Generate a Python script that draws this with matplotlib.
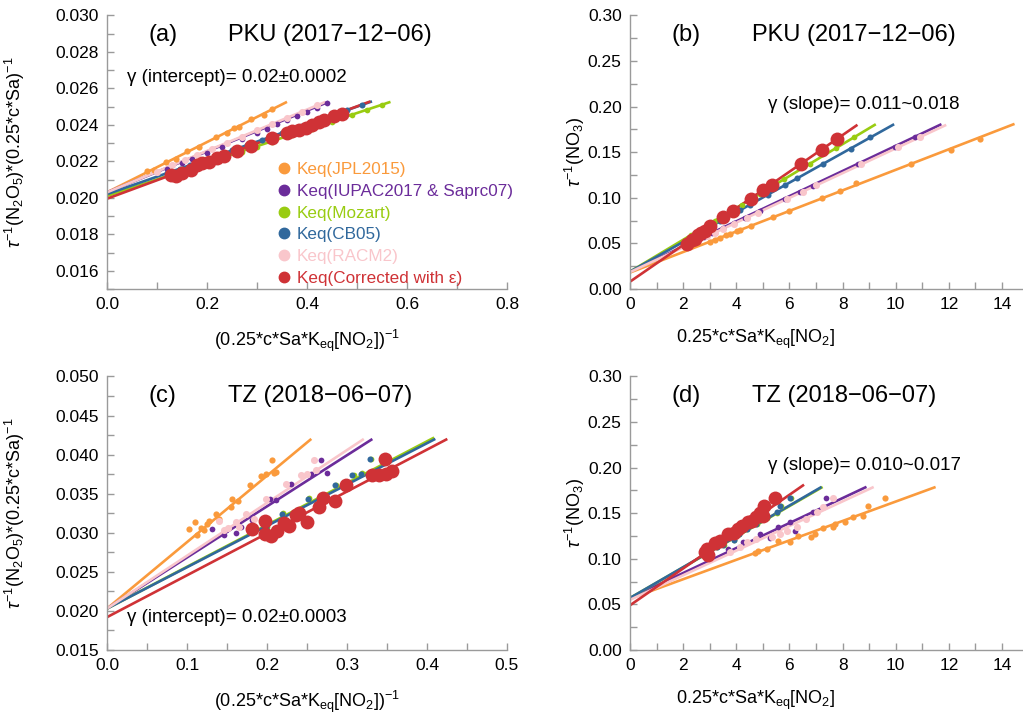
import matplotlib
matplotlib.use("Agg")
import matplotlib.pyplot as plt
from matplotlib.lines import Line2D
from matplotlib.ticker import MultipleLocator, FormatStrFormatter
import numpy as np

plt.rcParams["font.family"] = ["Liberation Sans", "DejaVu Sans"]
plt.rcParams["mathtext.fontset"] = "custom"
plt.rcParams["mathtext.rm"] = "Liberation Sans"
plt.rcParams["mathtext.it"] = "Liberation Sans:italic"

SERIES = ["jpl", "iupac", "mozart", "cb05", "racm2", "corr"]
LABELS = ["Keq(JPL2015)", "Keq(IUPAC2017 & Saprc07)", "Keq(Mozart)",
          "Keq(CB05)", "Keq(RACM2)", "Keq(Corrected with \u03b5)"]
COLORS = {"jpl": "#FA9A3C", "iupac": "#6B2C9A", "mozart": "#99CC11",
          "cb05": "#30689C", "racm2": "#F9C6CB", "corr": "#CF3236"}
SIZES = {"jpl": 20, "iupac": 17, "mozart": 17, "cb05": 19, "racm2": 26, "corr": 100}
AXIS_GRAY = "#9A9A9A"

# ---- (a) PKU, 1/(0.25cSa Keq[NO2]) vs tau^-1/(0.25cSa)
A_X = {
    "jpl": [0.08, 0.093, 0.117, 0.137, 0.16, 0.183, 0.217, 0.24, 0.253, 0.263, 0.287, 0.313, 0.33],
    "iupac": [0.12, 0.15, 0.17, 0.20, 0.23, 0.27, 0.30, 0.32, 0.34, 0.36, 0.38, 0.40, 0.42, 0.44],
    "mozart": [0.13, 0.155, 0.18, 0.21, 0.24, 0.27, 0.30, 0.33, 0.37, 0.41, 0.45, 0.49, 0.52, 0.55],
    "cb05": [0.12, 0.145, 0.165, 0.19, 0.22, 0.25, 0.28, 0.31, 0.35, 0.39, 0.42, 0.45, 0.48, 0.51],
    "racm2": [0.10, 0.13, 0.155, 0.18, 0.21, 0.24, 0.27, 0.30, 0.33, 0.36, 0.39, 0.42],
    "corr": [0.127, 0.137, 0.150, 0.167, 0.180, 0.190, 0.203, 0.220, 0.233, 0.260, 0.287,
             0.330, 0.360, 0.370, 0.383, 0.397, 0.410, 0.423, 0.433, 0.453, 0.470],
}
A_Y = {
    "jpl": [0.02145, 0.02155, 0.02195, 0.02214, 0.02255, 0.02278, 0.02333, 0.02356, 0.02384,
            0.02390, 0.02430, 0.02456, 0.02488],
    "iupac": [0.02158, 0.02190, 0.02214, 0.02245, 0.02280, 0.02322, 0.02356, 0.02380, 0.02402,
              0.02425, 0.02448, 0.02470, 0.02494, 0.02518],
    "mozart": [0.02125, 0.02148, 0.02171, 0.02198, 0.02225, 0.02253, 0.02280, 0.02307, 0.02344,
               0.02380, 0.02417, 0.02453, 0.02480, 0.02507],
    "cb05": [0.02135, 0.02159, 0.02178, 0.02202, 0.02231, 0.02260, 0.02289, 0.02318, 0.02356,
             0.02394, 0.02423, 0.02452, 0.02481, 0.02510],
    "racm2": [0.02144, 0.02178, 0.02206, 0.02234, 0.02268, 0.02302, 0.02336, 0.02371, 0.02405,
              0.02439, 0.02473, 0.02507],
    "corr": [0.02126, 0.02117, 0.02136, 0.02154, 0.02181, 0.02191, 0.02199, 0.02218, 0.02227,
             0.02254, 0.02282, 0.02328, 0.02355, 0.02368, 0.02374, 0.02383, 0.02401, 0.02416,
             0.02429, 0.02447, 0.02460],
}
# fitted lines: intercept, slope, end of line on x
A_FIT = {"jpl": (0.0203, 0.01378, 0.36), "iupac": (0.0203, 0.0112, 0.443),
         "mozart": (0.0201, 0.0091, 0.567), "cb05": (0.0202, 0.0096, 0.53),
         "racm2": (0.0203, 0.01135, 0.437), "corr": (0.01995, 0.01013, 0.527)}

# ---- (b) PKU, 0.25cSa Keq[NO2] vs tau^-1(NO3)
B_X = {
    "jpl": [3.01, 3.2, 3.38, 3.63, 3.76, 4.01, 4.14, 4.57, 5.39, 5.99, 7.24, 7.92, 8.52, 10.59, 12.09, 13.16],
    "iupac": [2.8, 3.1, 3.5, 3.9, 4.32, 4.9, 5.83, 6.39, 6.87, 8.58, 9.96, 10.71],
    "mozart": [2.3, 2.6, 2.9, 3.2, 3.8, 4.2, 4.9, 5.4, 5.8, 6.77, 7.74, 8.42],
    "cb05": [2.4, 2.7, 3.0, 3.4, 4.14, 4.5, 5.2, 5.83, 6.3, 7.27, 8.3, 9.05],
    "racm2": [2.9, 3.2, 3.5, 3.9, 4.4, 4.8, 5.9, 6.5, 7.0, 8.7, 10.1, 10.9],
    "corr": [2.13, 2.32, 2.44, 2.57, 2.69, 2.82, 3.01, 3.51, 3.86, 4.55, 4.99, 5.33, 6.42, 7.21, 7.79],
}
B_Y = {
    "jpl": [0.0519, 0.0541, 0.0561, 0.0589, 0.0604, 0.0632, 0.0647, 0.0695, 0.0787, 0.0855,
            0.0996, 0.1073, 0.1159, 0.1373, 0.1527, 0.1646],
    "iupac": [0.0570, 0.0612, 0.0668, 0.0722, 0.0780, 0.0860, 0.0990, 0.1065, 0.1132, 0.1370,
              0.1560, 0.1665],
    "mozart": [0.0592, 0.0644, 0.0697, 0.0749, 0.0854, 0.0924, 0.1047, 0.1134, 0.1204, 0.1373,
               0.1543, 0.1662],
    "cb05": [0.0580, 0.0629, 0.0678, 0.0743, 0.0864, 0.0922, 0.1036, 0.1139, 0.1215, 0.1373,
             0.1540, 0.1662],
    "racm2": [0.0579, 0.0619, 0.0660, 0.0714, 0.0782, 0.0836, 0.0986, 0.1067, 0.1135, 0.1366,
              0.1556, 0.1664],
    "corr": [0.0498, 0.0534, 0.0553, 0.0589, 0.0614, 0.0636, 0.0687, 0.0789, 0.0854, 0.0989,
             0.1087, 0.1145, 0.1371, 0.1527, 0.1643],
}
B_FIT = {"jpl": (0.018, 0.01127, 14.47), "iupac": (0.019, 0.0138, 11.72),
         "mozart": (0.019, 0.01748, 9.25), "cb05": (0.019, 0.01627, 9.94),
         "racm2": (0.0185, 0.01357, 11.9), "corr": (0.008, 0.0201, 8.56)}

# ---- (c) TZ, intercept form
C_X = {
    "jpl": [0.1025, 0.110, 0.1129, 0.1171, 0.1213, 0.1254, 0.1275, 0.1366, 0.140, 0.1567, 0.1546,
            0.1641, 0.1784, 0.1921, 0.1984, 0.2066, 0.2088, 0.2116],
    "iupac": [0.1317, 0.1463, 0.1491, 0.1608, 0.1671, 0.1817, 0.2033, 0.2117, 0.2296, 0.2546,
              0.2671, 0.2754],
    "mozart": [0.1806, 0.2001, 0.2202, 0.2528, 0.2864, 0.3082, 0.3186, 0.3299],
    "cb05": [0.1796, 0.1984, 0.2191, 0.2516, 0.285, 0.3067, 0.3171, 0.3283],
    "racm2": [0.1463, 0.140, 0.1517, 0.1608, 0.165, 0.1733, 0.1838, 0.1984, 0.2234, 0.2421,
              0.2504, 0.2588, 0.2608],
    "corr": [0.1817, 0.1975, 0.1975, 0.2046, 0.2129, 0.2213, 0.2275, 0.2358, 0.240, 0.2504,
             0.265, 0.270, 0.2846, 0.2983, 0.3317, 0.340, 0.3471, 0.3492, 0.3558],
}
C_Y = {
    "jpl": [0.03046, 0.03139, 0.02969, 0.03067, 0.03033, 0.03118, 0.03152, 0.03237, 0.03182,
            0.03438, 0.03330, 0.03407, 0.03608, 0.03726, 0.03748, 0.03936, 0.03765, 0.03777],
    "iupac": [0.03042, 0.02969, 0.03033, 0.02998, 0.03075, 0.03160, 0.03438, 0.03416, 0.03629,
              0.03757, 0.03936, 0.03765],
    "mozart": [0.03015, 0.03080, 0.03250, 0.03440, 0.03610, 0.03740, 0.03760, 0.03950],
    "cb05": [0.03011, 0.03075, 0.03246, 0.03438, 0.03608, 0.03735, 0.03757, 0.03949],
    "racm2": [0.03033, 0.03152, 0.03067, 0.03139, 0.03075, 0.03246, 0.03182, 0.03438, 0.03620,
              0.03735, 0.03757, 0.03936, 0.03799],
    "corr": [0.03046, 0.03152, 0.02982, 0.02960, 0.03024, 0.03131, 0.03088, 0.03224, 0.03254,
             0.03139, 0.03330, 0.03445, 0.03407, 0.03608, 0.03735, 0.03735, 0.03949, 0.03757,
             0.03786],
}
C_FIT = {"jpl": (0.0203, 0.0850, 0.2554), "iupac": (0.0203, 0.0654, 0.3317),
         "mozart": (0.0203, 0.0535, 0.409), "cb05": (0.0203, 0.0529, 0.4104),
         "racm2": (0.0203, 0.0676, 0.321), "corr": (0.0192, 0.0536, 0.4254)}

# ---- (d) TZ, slope form
D_X = {
    "jpl": [4.70, 4.82, 5.14, 5.58, 6.02, 6.33, 6.83, 6.95, 7.27, 7.64, 7.71, 8.08, 8.39, 8.77, 8.96, 9.59],
    "iupac": [3.70, 4.26, 4.89, 5.26, 5.58, 6.02, 6.20, 6.89, 7.39],
    "mozart": [3.02, 3.28, 3.52, 3.92, 4.12, 4.41, 4.78, 5.17, 5.55, 5.67, 6.05],
    "cb05": [3.0, 3.26, 3.5, 3.9, 4.1, 4.39, 4.76, 5.14, 5.52, 5.64, 6.02],
    "racm2": [3.76, 4.14, 4.39, 4.76, 5.33, 5.64, 5.89, 6.27, 6.64, 7.02, 7.27, 7.64],
    "corr": [2.82, 2.91, 2.95, 3.2, 3.38, 3.70, 3.9, 4.07, 4.2, 4.45, 4.6, 4.76, 4.9, 5.0, 5.04, 5.45],
}
D_Y = {
    "jpl": [0.1061, 0.1091, 0.1109, 0.1192, 0.1181, 0.1254, 0.1236, 0.1273, 0.1338, 0.1345,
            0.1382, 0.1399, 0.1454, 0.1472, 0.1581, 0.1665],
    "iupac": [0.1109, 0.1181, 0.1273, 0.1229, 0.1345, 0.1399, 0.1309, 0.1508, 0.1665],
    "mozart": [0.1058, 0.1125, 0.1148, 0.1208, 0.1268, 0.1325, 0.1380, 0.1452, 0.1506, 0.1579, 0.1670],
    "cb05": [0.1060, 0.1127, 0.1150, 0.1210, 0.1270, 0.1327, 0.1382, 0.1454, 0.1508, 0.1581, 0.1672],
    "racm2": [0.1072, 0.1127, 0.1181, 0.1218, 0.1236, 0.1273, 0.1309, 0.1345, 0.1436, 0.1508,
              0.1563, 0.1665],
    "corr": [0.1072, 0.1109, 0.1045, 0.1170, 0.1200, 0.1273, 0.1280, 0.1327, 0.1360, 0.1399,
             0.1420, 0.1454, 0.1500, 0.1470, 0.1581, 0.1672],
}
D_FIT = {"jpl": (0.0563, 0.01065, 11.5), "iupac": (0.057, 0.0137, 8.9),
         "mozart": (0.057, 0.0168, 7.25), "cb05": (0.057, 0.0169, 7.21),
         "racm2": (0.055, 0.0135, 9.17), "corr": (0.049, 0.0202, 6.55)}

XLAB_INT = r"(0.25*c*Sa*K$_{\rm eq}$[NO$_2$])$^{-1}$"
XLAB_SLO = r"0.25*c*Sa*K$_{\rm eq}$[NO$_2$]"
YLAB_INT = r"$\tau^{-1}$(N$_2$O$_5$)*(0.25*c*Sa)$^{-1}$"
YLAB_SLO = r"$\tau^{-1}$(NO$_3$)"


def style_axes(ax, xlim, ylim, xmaj, xmin, ymaj, ymin, xfmt, yfmt):
    for s in ("top", "right"):
        ax.spines[s].set_visible(False)
    for s in ("left", "bottom"):
        ax.spines[s].set_color(AXIS_GRAY)
        ax.spines[s].set_linewidth(1.0)
    ax.set_xlim(*xlim)
    ax.set_ylim(*ylim)
    ax.xaxis.set_major_locator(MultipleLocator(xmaj))
    ax.xaxis.set_minor_locator(MultipleLocator(xmin))
    ax.yaxis.set_major_locator(MultipleLocator(ymaj))
    ax.yaxis.set_minor_locator(MultipleLocator(ymin))
    ax.xaxis.set_major_formatter(FormatStrFormatter(xfmt))
    ax.yaxis.set_major_formatter(FormatStrFormatter(yfmt))
    ax.tick_params(which="both", direction="in", color=AXIS_GRAY, labelsize=12.5,
                   labelcolor="black", width=1.0)
    ax.tick_params(which="major", length=5, pad=6)
    ax.tick_params(which="minor", length=5)


def draw_panel(ax, xs, ys, fits):
    for k in SERIES:
        b, m, xe = fits[k]
        xl = np.array([0.0, xe])
        ax.plot(xl, b + m * xl, color=COLORS[k], lw=1.9, zorder=2,
                solid_capstyle="butt")
    for k in SERIES:
        ax.scatter(xs[k], ys[k], s=SIZES[k], color=COLORS[k], linewidths=0,
                   zorder=5 if k == "corr" else 3)


fig = plt.figure(figsize=(10.23, 7.18), dpi=100)
L, R = 0.1046, 0.6158
WL, WR = 0.391, 0.3832
T, B = 0.5975, 0.0947
H = 0.381

axa = fig.add_axes([L, T, WL, H])
axb = fig.add_axes([R, T, WR, H])
axc = fig.add_axes([L, B, WL, H])
axd = fig.add_axes([R, B, WR, H])

draw_panel(axa, A_X, A_Y, A_FIT)
draw_panel(axb, B_X, B_Y, B_FIT)
draw_panel(axc, C_X, C_Y, C_FIT)
draw_panel(axd, D_X, D_Y, D_FIT)

style_axes(axa, (0, 0.8), (0.015, 0.030), 0.2, 0.1, 0.002, 0.001, "%.1f", "%.3f")
style_axes(axb, (0, 14.75), (0, 0.30), 2, 1, 0.05, 0.025, "%d", "%.2f")
style_axes(axc, (0, 0.5), (0.015, 0.050), 0.1, 0.05, 0.005, 0.0025, "%.1f", "%.3f")
style_axes(axd, (0, 14.75), (0, 0.30), 2, 1, 0.05, 0.025, "%d", "%.2f")

for ax in (axa, axc):
    ax.set_xlabel(XLAB_INT, fontsize=13)
    ax.set_ylabel(YLAB_INT, fontsize=13)
    ax.xaxis.set_label_coords(0.5, -0.142)
    ax.yaxis.set_label_coords(-0.2, 0.5)
for ax in (axb, axd):
    ax.set_xlabel(XLAB_SLO, fontsize=13)
    ax.set_ylabel(YLAB_SLO, fontsize=13)
    ax.xaxis.set_label_coords(0.32, -0.142)
    ax.yaxis.set_label_coords(-0.11, 0.5)

for ax, tag, site, xt, xs in [(axa, "(a)", "PKU (2017\u221212\u221206)", 0.1025, 0.3025),
                              (axb, "(b)", "PKU (2017\u221212\u221206)", 0.106, 0.311),
                              (axc, "(c)", "TZ (2018\u221206\u221207)", 0.1025, 0.3025),
                              (axd, "(d)", "TZ (2018\u221206\u221207)", 0.106, 0.311)]:
    ax.text(xt, 0.928, tag, fontsize=17, va="center", ha="left", transform=ax.transAxes)
    ax.text(xs, 0.928, site, fontsize=17, va="center", ha="left", transform=ax.transAxes)

axa.text(0.05, 0.773, "\u03b3 (intercept)= 0.02\u00b10.0002", fontsize=13.5,
         va="center", ha="left", transform=axa.transAxes)
axb.text(0.352, 0.674, "\u03b3 (slope)= 0.011~0.018", fontsize=13.5,
         va="center", ha="left", transform=axb.transAxes)
axc.text(0.05, 0.117, "\u03b3 (intercept)= 0.02\u00b10.0003", fontsize=13.5,
         va="center", ha="left", transform=axc.transAxes)
axd.text(0.352, 0.675, "\u03b3 (slope)= 0.010~0.017", fontsize=13.5,
         va="center", ha="left", transform=axd.transAxes)

handles = [Line2D([], [], ls="none", marker="o", markersize=7.5, color=COLORS[k])
           for k in SERIES]
leg = axa.legend(handles, LABELS, loc="lower left", bbox_to_anchor=(0.412, -0.002),
                 frameon=False, fontsize=12.3, labelspacing=0.4, handletextpad=0.25,
                 handlelength=1.0, borderpad=0.2, borderaxespad=0)
for txt, k in zip(leg.get_texts(), SERIES):
    txt.set_color(COLORS[k])

fig.savefig("out.png", dpi=100)
